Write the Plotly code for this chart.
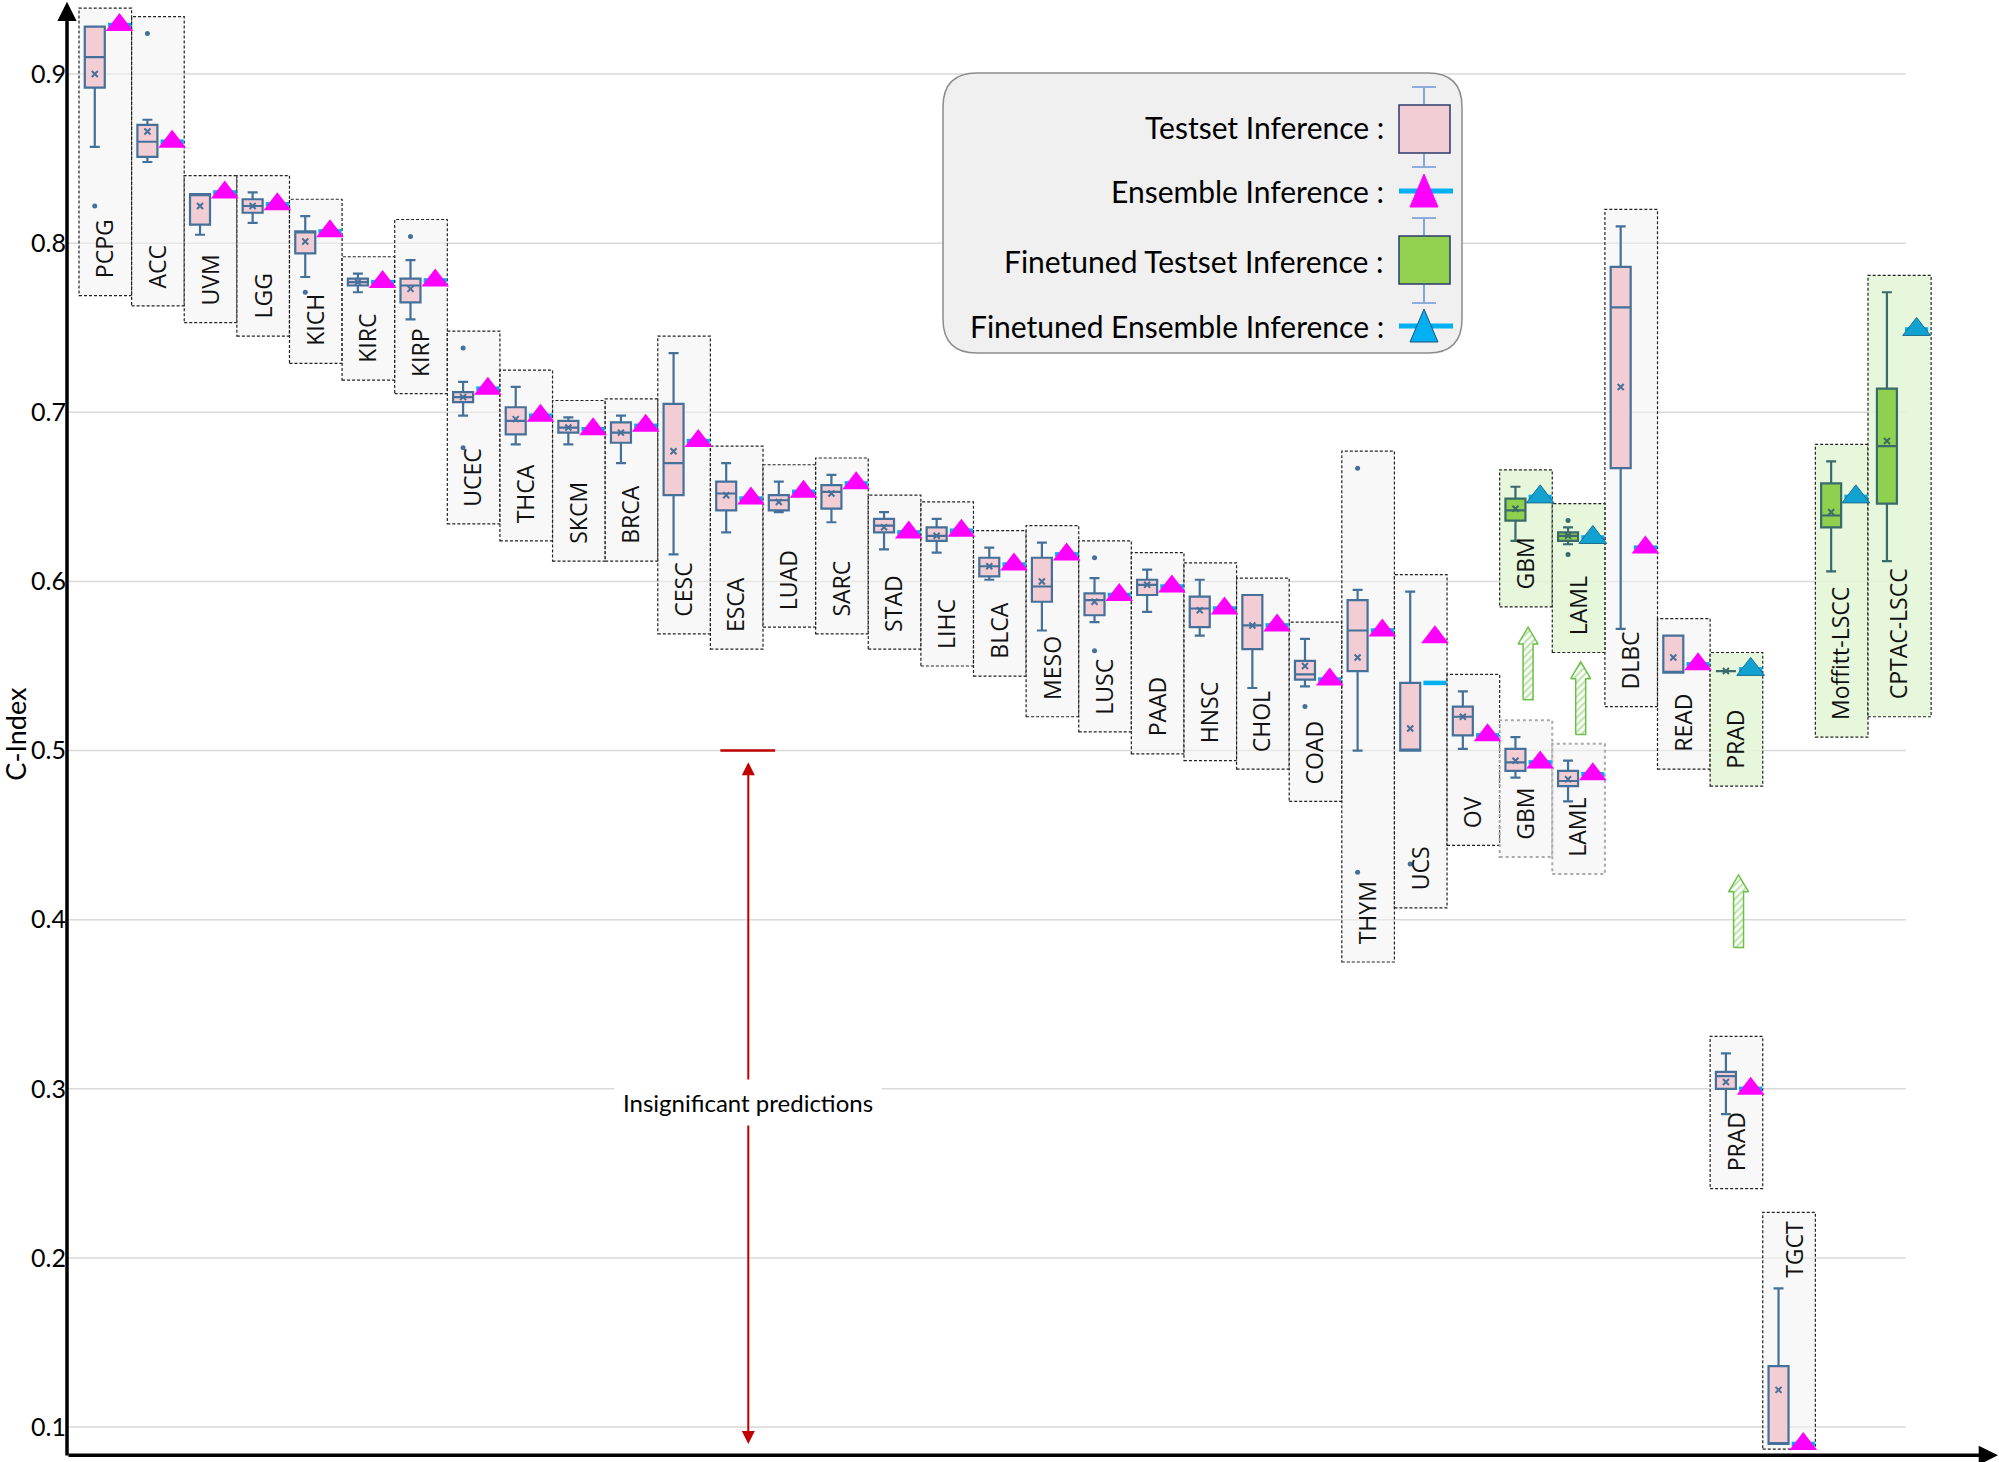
import plotly.graph_objects as go

# --- DATA ---
TEST_NAMES = ["PCPG", "ACC", "UVM", "LGG", "KICH", "KIRC", "KIRP", "UCEC", "THCA", "SKCM",
              "BRCA", "CESC", "ESCA", "LUAD", "SARC", "STAD", "LIHC", "BLCA", "MESO", "LUSC",
              "PAAD", "HNSC", "CHOL", "COAD", "THYM", "UCS", "OV", "GBM", "LAML", "DLBC",
              "READ", "PRAD", "TGCT"]
TEST_LO = [0.857, 0.848, 0.805, 0.812, 0.780, 0.771, 0.755, 0.698, 0.681, 0.681,
           0.670, 0.616, 0.629, 0.641, 0.635, 0.619, 0.617, 0.601, 0.571, 0.576,
           0.582, 0.568, 0.537, 0.538, 0.500, 0.500, 0.501, 0.484, 0.470, 0.572,
           0.546, 0.285, 0.090]
TEST_Q1 = [0.892, 0.851, 0.811, 0.818, 0.794, 0.775, 0.765, 0.706, 0.687, 0.688,
           0.682, 0.651, 0.642, 0.642, 0.643, 0.629, 0.624, 0.603, 0.588, 0.580,
           0.592, 0.573, 0.560, 0.542, 0.547, 0.500, 0.509, 0.488, 0.479, 0.667,
           0.546, 0.300, 0.090]
TEST_MED = [0.910, 0.860, 0.829, 0.822, 0.807, 0.777, 0.775, 0.709, 0.695, 0.691,
            0.688, 0.670, 0.652, 0.648, 0.653, 0.633, 0.627, 0.609, 0.597, 0.589,
            0.598, 0.584, 0.574, 0.545, 0.571, 0.500, 0.520, 0.493, 0.482, 0.762,
            0.546, 0.3075, 0.090]
TEST_Q3 = [0.928, 0.870, 0.829, 0.826, 0.807, 0.779, 0.779, 0.712, 0.703, 0.695,
           0.694, 0.705, 0.659, 0.651, 0.657, 0.637, 0.632, 0.614, 0.614, 0.593,
           0.601, 0.591, 0.592, 0.553, 0.589, 0.540, 0.526, 0.501, 0.488, 0.786,
           0.568, 0.310, 0.136]
TEST_HI = [0.928, 0.873, 0.829, 0.830, 0.816, 0.782, 0.790, 0.718, 0.715, 0.697,
           0.698, 0.735, 0.670, 0.659, 0.663, 0.641, 0.637, 0.620, 0.623, 0.602,
           0.607, 0.601, 0.592, 0.566, 0.595, 0.594, 0.535, 0.508, 0.494, 0.810,
           0.568, 0.321, 0.182]
TEST_MEAN = [0.900, 0.866, 0.822, 0.822, 0.801, 0.777, 0.773, 0.709, 0.696, 0.691,
             0.688, 0.677, 0.651, 0.647, 0.652, 0.632, 0.627, 0.609, 0.600, 0.588,
             0.598, 0.583, 0.574, 0.550, 0.555, 0.513, 0.520, 0.494, 0.483, 0.715,
             0.555, 0.304, 0.122]
TEST_OUT = [[0.822], [0.924], [], [], [0.771], [], [0.804], [0.738, 0.679], [], [],
            [], [], [], [], [], [], [], [], [], [0.614, 0.559],
            [], [], [], [0.526], [0.667, 0.428], [0.433], [], [], [], [],
            [], [], []]
# ensemble inference: triangle value and the cyan bar under it
TEST_ENS = [0.929, 0.860, 0.830, 0.823, 0.807, 0.777, 0.778, 0.714, 0.698, 0.690,
            0.692, 0.683, 0.649, 0.653, 0.658, 0.629, 0.630, 0.610, 0.616, 0.592,
            0.597, 0.584, 0.574, 0.542, 0.571, 0.567, 0.509, 0.493, 0.486, 0.620,
            0.551, 0.300, 0.090]
TEST_ENS_LINE = [0.929, 0.860, 0.830, 0.823, 0.807, 0.777, 0.778, 0.714, 0.698, 0.690,
                 0.692, 0.683, 0.649, 0.653, 0.658, 0.629, 0.630, 0.610, 0.616, 0.592,
                 0.597, 0.584, 0.574, 0.542, 0.571, 0.540, 0.509, 0.493, 0.486, 0.620,
                 0.551, 0.300, 0.090]

FT_NAMES = ["GBM", "LAML", "PRAD", "Moffitt-LSCC", "CPTAC-LSCC"]
FT_LO = [0.624, 0.622, 0.547, 0.606, 0.612]
FT_Q1 = [0.636, 0.624, 0.547, 0.632, 0.646]
FT_MED = [0.642, 0.627, 0.547, 0.639, 0.680]
FT_Q3 = [0.649, 0.629, 0.547, 0.658, 0.714]
FT_HI = [0.656, 0.632, 0.547, 0.671, 0.771]
FT_MEAN = [0.643, 0.627, 0.547, 0.641, 0.683]
FT_OUT = [[], [0.636, 0.616], [], [], []]
FT_ENS = [0.650, 0.626, 0.548, 0.650, 0.749]

Y_TICKS = [0.1, 0.2, 0.3, 0.4, 0.5, 0.6, 0.7, 0.8, 0.9]

# --- LAYOUT CONFIG (slot order along x, label boxes) ---
TEST_SLOT = list(range(33))
FT_SLOT = [27, 28, 31, 33, 34]
WIDE_SLOTS = {34: 1.2}
TEST_RECT_BOTTOM = [0.769, 0.763, 0.753, 0.745, 0.729, 0.719, 0.711, 0.634, 0.624, 0.612,
                    0.612, 0.569, 0.560, 0.573, 0.569, 0.560, 0.550, 0.544, 0.520, 0.511,
                    0.498, 0.494, 0.489, 0.470, 0.375, 0.407, 0.444, 0.437, 0.427, 0.526,
                    0.489, 0.241, 0.087]
FT_RECT_BOTTOM = [0.585, 0.558, 0.479, 0.508, 0.520]
TOP_LABEL = {"TGCT"}
DOTTED = {"GBM", "LAML"}

W, H = 1999, 1462
M_L, M_B = 67, 5
X_RANGE = [-0.228, 36.49]
Y_RANGE = [0.0823, 0.9438]

PINK, BOX_EDGE = "#f2cdd4", "#45709a"
GREEN, GREEN_EDGE = "#8fd14f", "#3a6a6a"
CYAN, MAGENTA, FT_TRI = "#00b0f0", "#ff00ff", "#12a2d2"
LABEL_FONT = dict(family="Open Sans", size=23, color="#111")
TEXT_FONT = "Lato"


def slot_w(s):
    return WIDE_SLOTS.get(s, 1.0)


def px(x):
    return (x - M_L) / (W - M_L)


def py(y):
    return 1 - y / (H - M_B)


fig = go.Figure()
shapes, annotations = [], []

# light gridlines that stop before the right edge
for t in Y_TICKS:
    shapes.append(dict(type="line", xref="x", yref="y", x0=X_RANGE[0], x1=34.72, y0=t, y1=t,
                       line=dict(color="#d9d9d9", width=1.5), layer="below"))


def add_group(names, slots, lo, q1, med, q3, hi, mean, outs, ens, ens_line, rect_bottom,
              fill, edge, tri_color, tri_edge, rect_fill, finetuned):
    xs_box, xs_tri, rect_tops = [], [], []
    for i, name in enumerate(names):
        s = slots[i]
        w = slot_w(s)
        xs_box.append(s + 0.3 * w)
        xs_tri.append(s + 0.77 * w)
        top_val = max([hi[i], ens[i], ens_line[i]] + outs[i])
        if name in TOP_LABEL:
            top = top_val + 0.045
        else:
            top = top_val + 0.01
        rect_tops.append(top)
        dotted = (not finetuned) and name in DOTTED
        shapes.append(dict(type="rect", xref="x", yref="y", x0=s, x1=s + w,
                           y0=rect_bottom[i], y1=top, fillcolor=rect_fill, layer="below",
                           line=dict(color="#aaaaaa" if dotted else "#222",
                                     width=2 if dotted else 1.2,
                                     dash="dot" if dotted else "3px,2px")))
        if name in TOP_LABEL:
            annotations.append(dict(x=s + 0.58 * w, y=top - 0.004, xref="x", yref="y", text=name,
                                    textangle=-90, yanchor="top", showarrow=False, font=LABEL_FONT))
        else:
            annotations.append(dict(x=s + 0.48 * w, y=rect_bottom[i] + 0.009, xref="x", yref="y",
                                    text=name, textangle=-90, yanchor="bottom", showarrow=False,
                                    font=LABEL_FONT))

    fig.add_trace(go.Box(x=xs_box, lowerfence=lo, q1=q1, median=med, q3=q3, upperfence=hi,
                         width=0.38, whiskerwidth=0.5, fillcolor=fill, boxpoints=False,
                         line=dict(color=edge, width=2.2), showlegend=False))
    # mean markers and outliers
    fig.add_trace(go.Scatter(x=xs_box, y=mean, mode="markers", showlegend=False,
                             marker=dict(symbol="x-thin", size=6, line=dict(color=edge, width=2))))
    ox, oy = [], []
    for i, o in enumerate(outs):
        for v in o:
            ox.append(xs_box[i])
            oy.append(v)
    fig.add_trace(go.Scatter(x=ox, y=oy, mode="markers", showlegend=False,
                             marker=dict(size=5, color=edge)))
    # ensemble bars + triangles
    lx, ly = [], []
    for i in range(len(names)):
        lx += [xs_tri[i] - 0.22, xs_tri[i] + 0.22, None]
        ly += [ens_line[i], ens_line[i], None]
    fig.add_trace(go.Scatter(x=lx, y=ly, mode="lines", showlegend=False,
                             line=dict(color=CYAN, width=4.5)))
    fig.add_trace(go.Scatter(x=xs_tri, y=ens, mode="markers", showlegend=False,
                             marker=dict(symbol="triangle-up", size=24, color=tri_color,
                                         line=dict(color=tri_edge, width=1 if tri_edge else 0))))
    return rect_tops


test_tops = add_group(TEST_NAMES, TEST_SLOT, TEST_LO, TEST_Q1, TEST_MED, TEST_Q3, TEST_HI,
                      TEST_MEAN, TEST_OUT, TEST_ENS, TEST_ENS_LINE, TEST_RECT_BOTTOM,
                      PINK, BOX_EDGE, MAGENTA, None, "rgba(243,243,243,0.55)", False)
ft_tops = add_group(FT_NAMES, FT_SLOT, FT_LO, FT_Q1, FT_MED, FT_Q3, FT_HI, FT_MEAN, FT_OUT,
                    FT_ENS, FT_ENS, FT_RECT_BOTTOM, GREEN, GREEN_EDGE, FT_TRI, "#1a6f90",
                    "rgba(226,246,213,0.85)", True)

# hatched green arrows from the plain to the finetuned result
for j, name in enumerate(FT_NAMES):
    if name not in TEST_NAMES:
        continue
    i = TEST_NAMES.index(name)
    cx = FT_SLOT[j] + 0.54
    mid = (test_tops[i] + FT_RECT_BOTTOM[j]) / 2
    y0, y1 = mid - 0.0215, mid + 0.0215
    hb, hh, hl = 0.095, 0.19, 0.010
    ax_ = [cx - hb, cx - hb, cx - hh, cx, cx + hh, cx + hb, cx + hb, cx - hb]
    ay_ = [y0, y1 - hl, y1 - hl, y1, y1 - hl, y1 - hl, y0, y0]
    fig.add_trace(go.Scatter(x=ax_, y=ay_, mode="lines", fill="toself", showlegend=False,
                             line=dict(color="#6cc04a", width=1.5), fillcolor="white",
                             fillpattern=dict(shape="/", fgcolor="#7cc85a", bgcolor="white",
                                              size=5, solidity=0.45)))

# "Insignificant predictions" marker
shapes.append(dict(type="line", xref="x", yref="y", x0=12.19, x1=13.23, y0=0.5, y1=0.5,
                   line=dict(color="#c00000", width=2.5)))
annotations.append(dict(x=12.72, y=0.09, ax=12.72, ay=0.494, xref="x", yref="y", axref="x",
                        ayref="y", text="", showarrow=True, arrowside="end+start", arrowhead=2,
                        startarrowhead=2, arrowsize=1.3, startarrowsize=1.3, arrowwidth=2,
                        arrowcolor="#c00000"))
annotations.append(dict(x=12.72, y=0.292, xref="x", yref="y", text="Insignificant predictions",
                        showarrow=False, bgcolor="white", borderpad=8,
                        font=dict(family=TEXT_FONT, size=24, color="black")))

# axes drawn as arrows (data coordinates)
annotations.append(dict(x=X_RANGE[0], y=Y_RANGE[1] - 0.001, ax=X_RANGE[0], ay=Y_RANGE[0],
                        xref="x", yref="y", axref="x", ayref="y", text="",
                        showarrow=True, arrowhead=2, arrowsize=1.1, arrowwidth=3.5,
                        arrowcolor="black"))
annotations.append(dict(x=X_RANGE[1] - 0.02, y=Y_RANGE[0] + 0.001, ax=X_RANGE[0],
                        ay=Y_RANGE[0] + 0.001, xref="x", yref="y", axref="x", ayref="y", text="",
                        showarrow=True, arrowhead=2, arrowsize=1.1, arrowwidth=3.5,
                        arrowcolor="black"))
annotations.append(dict(x=px(16), y=0.51, xref="paper", yref="y", text="C-Index", textangle=-90,
                        xanchor="center", yanchor="middle", showarrow=False,
                        font=dict(family=TEXT_FONT, size=27, color="black")))

# --- custom legend box ---
lx0, lx1, ly0, ly1, r = 943, 1462, 73, 353, 34
rx, ry = r / (W - M_L), r / (H - M_B)
X0, X1, Y0, Y1 = px(lx0), px(lx1), py(ly0), py(ly1)
path = (f"M {X0 + rx},{Y0} L {X1 - rx},{Y0} Q {X1},{Y0} {X1},{Y0 - ry} "
        f"L {X1},{Y1 + ry} Q {X1},{Y1} {X1 - rx},{Y1} L {X0 + rx},{Y1} Q {X0},{Y1} {X0},{Y1 + ry} "
        f"L {X0},{Y0 - ry} Q {X0},{Y0} {X0 + rx},{Y0} Z")
shapes.append(dict(type="path", path=path, xref="paper", yref="paper", fillcolor="#f0f0f0",
                   line=dict(color="#8c8c8c", width=1.5), layer="above"))

legend_items = ["Testset Inference :", "Ensemble Inference :", "Finetuned Testset Inference :",
                "Finetuned Ensemble Inference :"]
legend_y = [127, 191, 261, 326]
for txt, yy in zip(legend_items, legend_y):
    annotations.append(dict(x=px(1386), y=py(yy), xref="paper", yref="paper", text=txt,
                            xanchor="right", yanchor="middle", showarrow=False,
                            font=dict(family=TEXT_FONT, size=30, color="black")))

icx = 1424


def legend_box(ytop, ybot, wtop, wbot, fill):
    shapes.append(dict(type="rect", xref="paper", yref="paper", x0=px(1399), x1=px(1450),
                       y0=py(ybot), y1=py(ytop), fillcolor=fill,
                       line=dict(color="#2b3a6b", width=1.5), layer="above"))
    for a, b in [(wtop, ytop), (ybot, wbot)]:
        shapes.append(dict(type="line", xref="paper", yref="paper", x0=px(icx), x1=px(icx),
                           y0=py(a), y1=py(b), line=dict(color="#4472c4", width=1.2),
                           layer="above"))
    for c in (wtop, wbot):
        shapes.append(dict(type="line", xref="paper", yref="paper", x0=px(icx - 12),
                           x1=px(icx + 12), y0=py(c), y1=py(c),
                           line=dict(color="#8faadc", width=2), layer="above"))


def legend_tri(yline, apex, base, fill, edge):
    shapes.append(dict(type="line", xref="paper", yref="paper", x0=px(1399), x1=px(1453),
                       y0=py(yline), y1=py(yline), line=dict(color=CYAN, width=5),
                       layer="above"))
    tri = (f"M {px(icx)},{py(apex)} L {px(icx - 14)},{py(base)} "
           f"L {px(icx + 14)},{py(base)} Z")
    shapes.append(dict(type="path", path=tri, xref="paper", yref="paper", fillcolor=fill,
                       line=dict(color=edge, width=1), layer="above"))


legend_box(105, 153, 87, 167, PINK)
legend_tri(191, 174, 207, MAGENTA, MAGENTA)
legend_box(236, 284, 218, 303, "#92d050")
legend_tri(326, 309, 342, CYAN, "#1f4e79")

fig.update_layout(
    width=W, height=H, margin=dict(l=M_L, r=0, t=0, b=M_B, autoexpand=False),
    plot_bgcolor="white", paper_bgcolor="white", showlegend=False,
    shapes=shapes, annotations=annotations,
    xaxis=dict(range=X_RANGE, visible=False, showgrid=False, zeroline=False),
    yaxis=dict(range=Y_RANGE, tickvals=Y_TICKS, ticktext=[f"{t:.1f}" for t in Y_TICKS],
               showgrid=False, zeroline=False, showline=False, ticks="",
               tickfont=dict(family=TEXT_FONT, size=25, color="black")),
)

# the page body has a default 8px margin; drop it so the figure fills the window
fig.write_html("out.html", config={"displayModeBar": False},
               post_script="document.body.style.margin='0';")
